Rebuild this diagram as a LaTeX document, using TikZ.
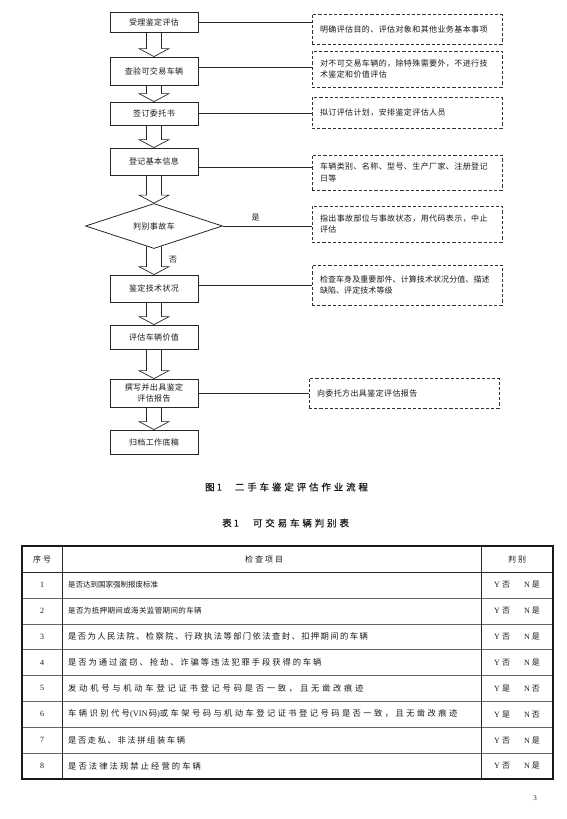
\documentclass[tikz,border=0pt]{standalone}
\usepackage{fontspec}
\setmainfont{Noto Sans CJK SC}
\newfontfamily\lat{Liberation Serif}
\newfontfamily\capfont[LetterSpace=30,FakeBold=0.5]{Noto Sans CJK SC}
\usetikzlibrary{shapes.geometric,calc}
\newcommand\boxfont{\fontsize{8}{11.5}\selectfont\addfontfeatures{LetterSpace=5}}
\newcommand\tabfont[2]{\fontsize{#1}{9}\selectfont\addfontfeatures{LetterSpace=#2}}
\newcommand\yesno[2]{{\lat Y}\hspace{2pt}#1\hspace{14pt}{\lat N}\hspace{2pt}#2}
\newcommand\blockarrow[3][0]{%
  \draw[barrow] ($(#2.south)+(-7.5,-#1)$) -- ($(#3.north)+(-7.5,-8)$)
    -- ($(#3.north)+(-15,-8)$) -- (#3.north) -- ($(#3.north)+(15,-8)$)
    -- ($(#3.north)+(7.5,-8)$) -- ($(#2.south)+(7.5,-#1)$);}
\tikzset{
  procbox/.style={draw=black!85, line width=0.8pt, minimum width=88pt,
    inner sep=1pt, align=center, font=\boxfont, text=black!90},
  decision/.style={draw=black!85, line width=0.8pt, shape=diamond, aspect=3,
    minimum width=137pt, minimum height=45pt, inner sep=0pt, font=\boxfont, text=black!90},
  notebox/.style={draw=black!80, line width=0.8pt, dash pattern=on 3.2pt off 2pt,
    minimum width=190pt, text width=174pt, inner xsep=8pt, align=left,
    font=\boxfont, text=black!90},
  conn/.style={draw=black!85, line width=0.6pt},
  barrow/.style={draw=black!85, line width=0.7pt, line join=miter},
  lbl/.style={font=\boxfont, text=black!90},
  tabouter/.style={draw=black!90, line width=1.1pt},
  tabcol/.style={draw=black!85, line width=0.7pt},
  tabrow/.style={draw=black!60, line width=0.6pt},
  cell/.style={anchor=west, text=black!90, inner sep=0pt},
  ctr/.style={text=black!90, inner sep=0pt}
}
\begin{document}
\begin{tikzpicture}[x=1pt,y=-1pt]
\useasboundingbox (0,0) rectangle (566,819);
\fill[white] (0,0) rectangle (566,819);

% process boxes
\node[procbox, minimum height=20pt] (b1) at (154,22) {受理鉴定评估};
\node[procbox, minimum height=28pt] (b2) at (154,71) {查验可交易车辆};
\node[procbox, minimum height=23pt] (b3) at (154,113.5) {签订委托书};
\node[procbox, minimum height=27pt] (b4) at (154,161.5) {登记基本信息};
\node[decision] (d) at (154,226) {判别事故车};
\node[procbox, minimum height=27pt] (b5) at (154,288.5) {鉴定技术状况};
\node[procbox, minimum height=24pt] (b6) at (154,337) {评估车辆价值};
\node[procbox, minimum height=28pt] (b7) at (154,393) {撰写并出具鉴定\\评估报告};
\node[procbox, minimum height=24pt] (b8) at (154,442) {归档工作底稿};

% note boxes
\node[notebox, minimum height=30pt] (r1) at (407,29) {明确评估目的、评估对象和其他业务基本事项};
\node[notebox, minimum height=36pt] (r2) at (407,69) {对不可交易车辆的，除特殊需要外，不进行技\\术鉴定和价值评估};
\node[notebox, minimum height=31pt] (r3) at (407,112.5) {拟订评估计划，安排鉴定评估人员};
\node[notebox, minimum height=35pt] (r4) at (407,172.5) {车辆类别、名称、型号、生产厂家、注册登记\\日等};
\node[notebox, minimum height=36pt] (r5) at (407,224) {指出事故部位与事故状态，用代码表示，中止\\评估};
\node[notebox, minimum height=40pt, font={\fontsize{8}{11.5}\selectfont\addfontfeatures{LetterSpace=1}}] (r6) at (407,285) {检查车身及重要部件、计算技术状况分值、描述\\缺陷、评定技术等级};
\node[notebox, minimum height=30pt] (r7) at (404,393) {向委托方出具鉴定评估报告};

% connectors
\draw[conn] (b1.east) -- (b1.east -| r1.west);
\draw[conn] ([yshift=4pt]b2.east) -- ([yshift=4pt]b2.east -| r2.west);
\draw[conn] (b3.east) -- (b3.east -| r3.west);
\draw[conn] ([yshift=-6pt]b4.east) -- ([yshift=-6pt]b4.east -| r4.west);
\draw[conn] (d.east) -- (d.east -| r5.west) node[lbl, pos=0.37, above=1pt] (yes) {是};
\draw[conn] (b5.east |- r6.west) -- (r6.west);
\draw[conn] (b7.east) -- (b7.east -| r7.west);

% block arrows
\blockarrow{b1}{b2}
\blockarrow{b2}{b3}
\blockarrow{b3}{b4}
\blockarrow{b4}{d}
\blockarrow[2.5]{d}{b5}
\blockarrow{b5}{b6}
\blockarrow{b6}{b7}
\blockarrow{b7}{b8}
\node[lbl] (no) at (173,260) {否};

% captions
\node[anchor=west, inner sep=0pt, text=black!90, font={\fontsize{9.5}{11}\capfont}] (cap1) at (205,487)
  {图\hspace{2pt}1\hspace{13pt}二手车鉴定评估作业流程};
\node[anchor=west, inner sep=0pt, text=black!90, font={\fontsize{9.5}{11}\capfont}] (cap2) at (222,523)
  {表\hspace{2pt}1\hspace{14pt}可交易车辆判别表};

% table
\foreach \yy in {597.9,623.8,649.6,675.5,701.4,727.3,753.1}
  \draw[tabrow] (22,\yy) -- (553,\yy);
\draw[tabcol] (22,572) -- (553,572);
\draw[tabcol] (62,546) -- (62,779);
\draw[tabcol] (481,546) -- (481,779);
\draw[tabouter] (22,546) rectangle (553,779);

\node[ctr, font={\tabfont{8}{25}}] (h1) at (42,559) {序号};
\node[ctr, font={\tabfont{8}{25}}] (h2) at (264,559) {检查项目};
\node[ctr, font={\tabfont{8}{25}}] (h3) at (517,559) {判别};

\node[ctr, font={\lat\fontsize{8}{9}\selectfont}] (n1) at (42,584.9) {1};
\node[ctr, font={\lat\fontsize{8}{9}\selectfont}] (n2) at (42,610.8) {2};
\node[ctr, font={\lat\fontsize{8}{9}\selectfont}] (n3) at (42,636.7) {3};
\node[ctr, font={\lat\fontsize{8}{9}\selectfont}] (n4) at (42,662.6) {4};
\node[ctr, font={\lat\fontsize{8}{9}\selectfont}] (n5) at (42,688.4) {5};
\node[ctr, font={\lat\fontsize{8}{9}\selectfont}] (n6) at (42,714.3) {6};
\node[ctr, font={\lat\fontsize{8}{9}\selectfont}] (n7) at (42,740.2) {7};
\node[ctr, font={\lat\fontsize{8}{9}\selectfont}] (n8) at (42,766.1) {8};

\node[cell, font={\tabfont{7.5}{0}}] (t1) at (68,584.9) {是否达到国家强制报废标准};
\node[cell, font={\tabfont{7.5}{5}}] (t2) at (68,610.8) {是否为抵押期间或海关监管期间的车辆};
\node[cell, font={\tabfont{8.3}{17}}] (t3) at (68,636.7) {是否为人民法院、检察院、行政执法等部门依法查封、扣押期间的车辆};
\node[cell, font={\tabfont{8.3}{23}}] (t4) at (68,662.6) {是否为通过盗窃、抢劫、诈骗等违法犯罪手段获得的车辆};
\node[cell, font={\tabfont{8.3}{33}}] (t5) at (68,688.4) {发动机号与机动车登记证书登记号码是否一致，且无凿改痕迹};
\node[cell, font={\tabfont{8.3}{29}}] (t6) at (68,714.3) {车辆识别代号{\lat (VIN\,}码{\lat )}或车架号码与机动车登记证书登记号码是否一致，且无凿改痕迹};
\node[cell, font={\tabfont{8.3}{19}}] (t7) at (68,740.2) {是否走私、非法拼组装车辆};
\node[cell, font={\tabfont{8.3}{25}}] (t8) at (68,766.1) {是否法律法规禁止经营的车辆};

\node[ctr, font={\fontsize{8}{9}\selectfont}] (j1) at (517,584.9) {\yesno{否}{是}};
\node[ctr, font={\fontsize{8}{9}\selectfont}] (j2) at (517,610.8) {\yesno{否}{是}};
\node[ctr, font={\fontsize{8}{9}\selectfont}] (j3) at (517,636.7) {\yesno{否}{是}};
\node[ctr, font={\fontsize{8}{9}\selectfont}] (j4) at (517,662.6) {\yesno{否}{是}};
\node[ctr, font={\fontsize{8}{9}\selectfont}] (j5) at (517,688.4) {\yesno{是}{否}};
\node[ctr, font={\fontsize{8}{9}\selectfont}] (j6) at (517,714.3) {\yesno{是}{否}};
\node[ctr, font={\fontsize{8}{9}\selectfont}] (j7) at (517,740.2) {\yesno{否}{是}};
\node[ctr, font={\fontsize{8}{9}\selectfont}] (j8) at (517,766.1) {\yesno{否}{是}};

\node[ctr, font={\lat\fontsize{7}{8}\selectfont}] (pg) at (535,798) {3};
\end{tikzpicture}
\end{document}
